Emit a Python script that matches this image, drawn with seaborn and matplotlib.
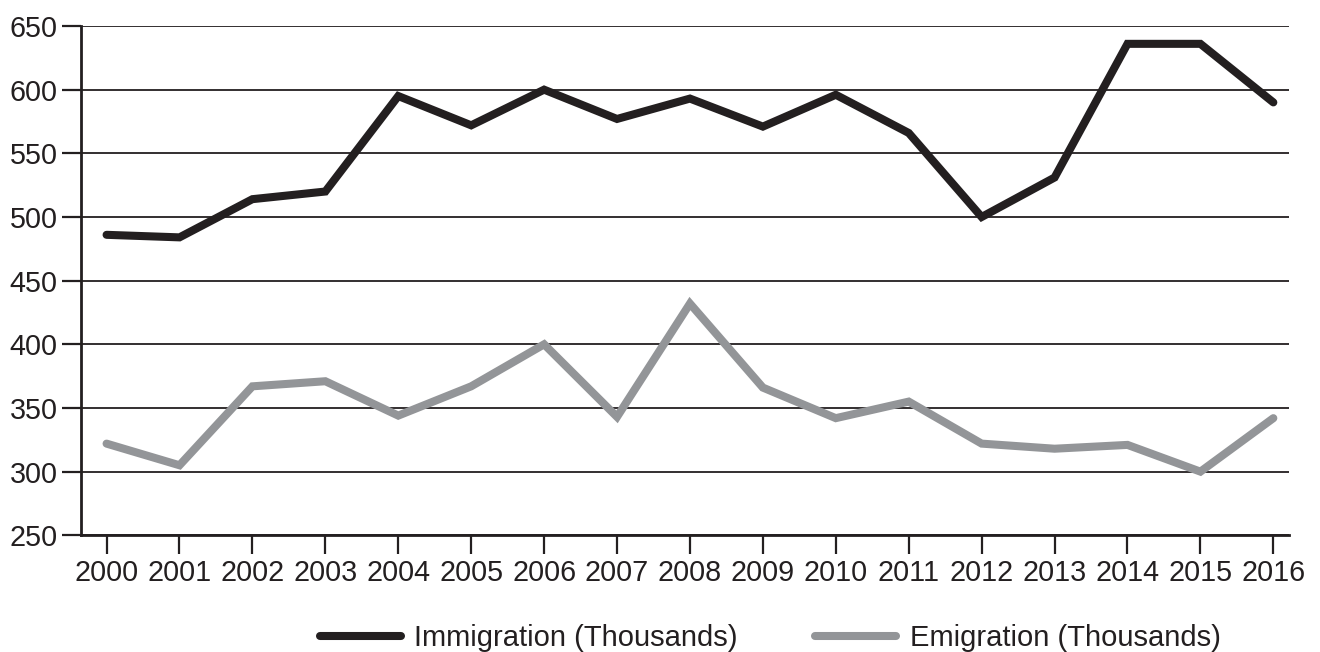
import pandas as pd
import matplotlib
matplotlib.use("Agg")
import matplotlib.pyplot as plt
import seaborn as sns

# Data (thousands)
years = [str(y) for y in range(2000, 2017)]
immigration = [486, 484, 514, 520, 595, 572, 600, 577, 593, 571, 596, 566, 500, 531, 636, 636, 590]
emigration = [322, 305, 367, 371, 344, 367, 400, 343, 432, 366, 342, 355, 322, 318, 321, 300, 342]

series_names = ["Immigration (Thousands)", "Emigration (Thousands)"]
series_colors = ["#231f20", "#939598"]

df = pd.DataFrame({"year": years, series_names[0]: immigration, series_names[1]: emigration})
long_df = df.melt(id_vars="year", var_name="series", value_name="value")

sns.set_style("white")
plt.rcParams["font.family"] = ["Liberation Sans", "DejaVu Sans"]

fig = plt.figure(figsize=(13.2, 6.52), dpi=100)
ax = fig.add_axes([0.0614, 0.179, 0.9154, 0.7811])

sns.lineplot(data=long_df, x="year", y="value", hue="series", hue_order=series_names,
             palette=series_colors, linewidth=5.8, ax=ax, legend=False,
             solid_capstyle="round", solid_joinstyle="miter")

ax.set_ylim(250, 650)
ax.set_yticks(range(250, 651, 50))
ax.set_xlim(-0.35, 16.22)
ax.set_xlabel("")
ax.set_ylabel("")

# horizontal grid lines
ax.yaxis.grid(True, color="#231f20", linewidth=1.3)
ax.xaxis.grid(False)
ax.set_axisbelow(True)

for side in ["top", "right"]:
    ax.spines[side].set_visible(False)
for side in ["left", "bottom"]:
    ax.spines[side].set_color("#231f20")
    ax.spines[side].set_linewidth(2)

ax.tick_params(axis="both", which="major", length=13.5, width=1.6, color="#231f20",
               labelsize=20.7, labelcolor="#231f20", pad=3.5, direction="out")
ax.tick_params(axis="x", bottom=True)
ax.tick_params(axis="y", left=True)

handles = [plt.Line2D([0], [0], color=c, linewidth=5.8, solid_capstyle="round") for c in series_colors]
fig.legend(handles, series_names, loc="center", bbox_to_anchor=(770 / 1320, 1 - 638 / 652),
           ncol=2, frameon=False, fontsize=21, handlelength=2.8, handletextpad=0.45,
           columnspacing=2.64, labelcolor="#231f20")

fig.savefig("out.png", dpi=100, facecolor="white")
